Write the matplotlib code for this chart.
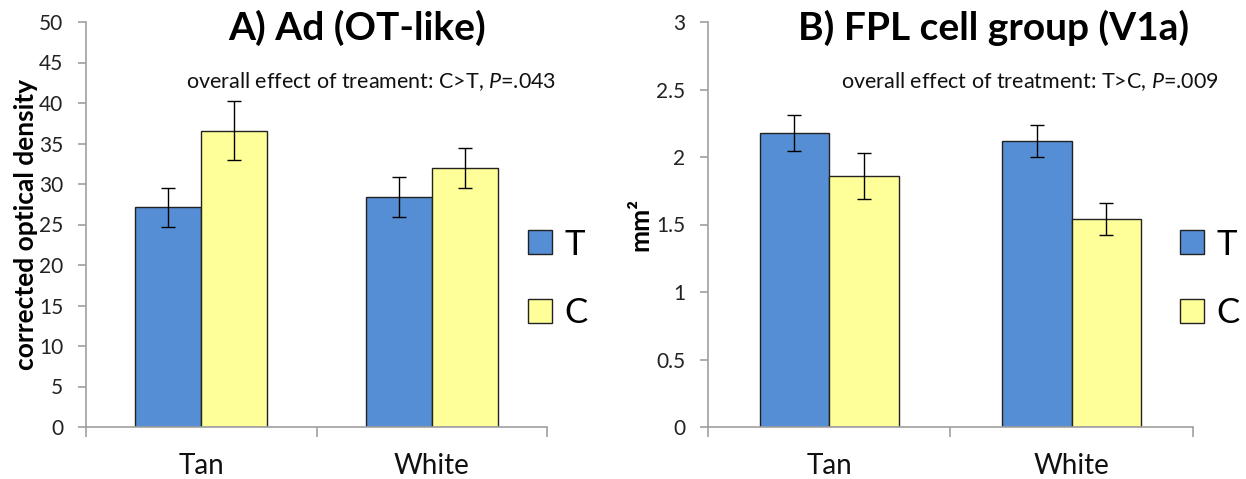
import matplotlib
matplotlib.use("Agg")
import matplotlib.pyplot as plt
import numpy as np

plt.rcParams['font.family'] = ['Lato', 'DejaVu Sans']
plt.rcParams['mathtext.fontset'] = 'custom'
plt.rcParams['mathtext.rm'] = 'Lato'
plt.rcParams['mathtext.it'] = 'Lato:italic'

categories = ["Tan", "White"]
series = ["T", "C"]

a_T = [27.1, 28.4]
a_T_err = [2.4, 2.45]
a_C = [36.6, 32.0]
a_C_err = [3.6, 2.45]

b_T = [2.175, 2.12]
b_T_err = [0.133, 0.119]
b_C = [1.86, 1.54]
b_C_err = [0.172, 0.119]

a_yticks = [0, 5, 10, 15, 20, 25, 30, 35, 40, 45, 50]
b_yticks = [0, 0.5, 1, 1.5, 2, 2.5, 3]

BLUE = "#558ed5"
YELLOW = "#ffff99"
GRAY = "#a0a0a0"

fig = plt.figure(figsize=(12.46, 4.79), dpi=100)
axA = fig.add_axes([86/1246, 52/479, 461/1246, 405/479])
axB = fig.add_axes([708/1246, 52/479, 484.7/1246, 405/479])

def draw(ax, T, Terr, C, Cerr, yticks, ylabel, title, tx, sub, sx, legx):
    x = np.arange(len(categories))
    w = 0.287
    bT = ax.bar(x - w/2, T, w, color=BLUE, edgecolor="#222222", linewidth=1.0, label=series[0], zorder=2)
    bC = ax.bar(x + w/2, C, w, color=YELLOW, edgecolor="#222222", linewidth=1.0, label=series[1], zorder=2)
    ax.errorbar(x - w/2, T, yerr=Terr, fmt='none', ecolor='black', elinewidth=1.0, capsize=4.7, capthick=1.0, zorder=3)
    ax.errorbar(x + w/2, C, yerr=Cerr, fmt='none', ecolor='black', elinewidth=1.0, capsize=4.7, capthick=1.0, zorder=3)
    ax.set_xlim(-0.5, len(categories) - 0.5)
    ax.set_ylim(yticks[0], yticks[-1])
    ax.set_yticks(yticks)
    ax.set_yticklabels([f"{v:g}" for v in yticks])
    ax.set_xticks(x)
    ax.set_xticklabels(categories, fontsize=20, color="#111111")
    ax.set_xticks(np.arange(len(categories) + 1) - 0.5, minor=True)
    ax.tick_params(axis='x', which='major', length=0, pad=19)
    ax.tick_params(axis='x', which='minor', length=7.5, width=1.2, color=GRAY, direction='out')
    ax.tick_params(axis='y', which='major', length=5.5, width=1.2, color=GRAY, labelsize=15, labelcolor="#222222", pad=11)
    for s in ['top', 'right']:
        ax.spines[s].set_visible(False)
    for s in ['left', 'bottom']:
        ax.spines[s].set_color(GRAY)
        ax.spines[s].set_linewidth(1.2)
    ax.set_ylabel(ylabel, fontsize=19, fontweight='bold')
    ax.text(tx, 0.985, title, transform=ax.transAxes, ha='center', va='center', fontsize=28, fontweight='bold')
    ax.text(sx, 0.853, sub, transform=ax.transAxes, ha='center', va='center', fontsize=15.5, color="#111111")
    ax.legend(handles=[bT, bC], loc='center left', bbox_to_anchor=(legx, 0.366), frameon=False,
              fontsize=25, handlelength=0.69, handleheight=0.69, handletextpad=0.35,
              labelspacing=1.05, borderpad=0, borderaxespad=0)

draw(axA, a_T, a_T_err, a_C, a_C_err, a_yticks, "corrected optical density",
     "A) Ad (OT-like)", 0.588, r"overall effect of treament: C>T, $\mathit{P}$=.043", 0.619, 0.959)
draw(axB, b_T, b_T_err, b_C, b_C_err, b_yticks, "mm²",
     "B) FPL cell group (V1a)", 0.590, r"overall effect of treatment: T>C, $\mathit{P}$=.009", 0.664, 0.974)

axA.yaxis.set_label_coords(-0.104, 0.5)
axB.yaxis.set_label_coords(-0.1155, 0.5)

fig.savefig("out.png", dpi=100)
